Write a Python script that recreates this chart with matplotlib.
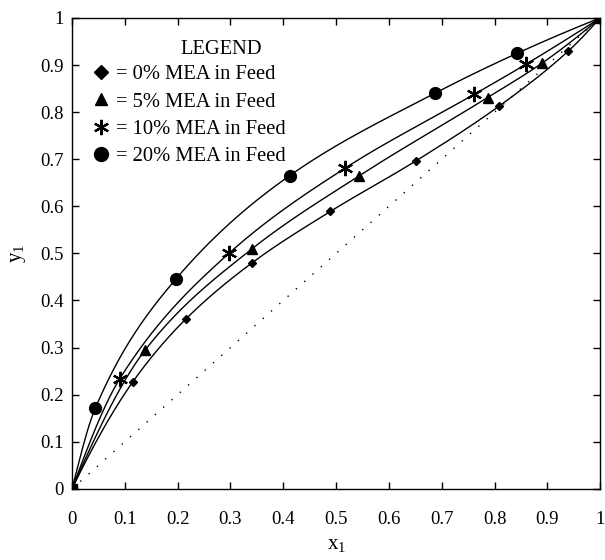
import numpy as np
import matplotlib
matplotlib.use("Agg")
import matplotlib.pyplot as plt
from matplotlib.lines import Line2D

plt.rcParams['font.family'] = ['Liberation Serif', 'DejaVu Serif']
plt.rcParams['mathtext.fontset'] = 'custom'
plt.rcParams['mathtext.rm'] = 'Liberation Serif'
plt.rcParams['mathtext.it'] = 'Liberation Serif:italic'

# ---- data ----
x_0 = [0, 0.115, 0.215, 0.341, 0.489, 0.652, 0.809, 0.940, 1]
y_0 = [0, 0.227, 0.360, 0.480, 0.589, 0.697, 0.813, 0.930, 1]
x_5 = [0, 0.138, 0.340, 0.544, 0.787, 0.890, 1]
y_5 = [0, 0.294, 0.509, 0.665, 0.831, 0.904, 1]
x_10 = [0, 0.090, 0.297, 0.517, 0.762, 0.860, 1]
y_10 = [0, 0.233, 0.500, 0.681, 0.838, 0.902, 1]
x_20 = [0, 0.044, 0.197, 0.412, 0.687, 0.843, 1]
y_20 = [0, 0.171, 0.446, 0.665, 0.840, 0.925, 1]
labels = ['= 0% MEA in Feed', '= 5% MEA in Feed', '= 10% MEA in Feed', '= 20% MEA in Feed']
ticks = [0, 0.1, 0.2, 0.3, 0.4, 0.5, 0.6, 0.7, 0.8, 0.9, 1]
tick_labels = ['0', '0.1', '0.2', '0.3', '0.4', '0.5', '0.6', '0.7', '0.8', '0.9', '1']


def pchip(x, y, xs):
    x = np.asarray(x, float); y = np.asarray(y, float)
    h = np.diff(x); d = np.diff(y) / h
    n = len(x)
    m = np.zeros(n)
    for k in range(1, n - 1):
        if d[k - 1] * d[k] > 0:
            w1 = 2 * h[k] + h[k - 1]; w2 = h[k] + 2 * h[k - 1]
            m[k] = (w1 + w2) / (w1 / d[k - 1] + w2 / d[k])
    m[0] = ((2 * h[0] + h[1]) * d[0] - h[0] * d[1]) / (h[0] + h[1])
    if np.sign(m[0]) != np.sign(d[0]): m[0] = 0
    elif abs(m[0]) > 3 * abs(d[0]): m[0] = 3 * d[0]
    m[-1] = ((2 * h[-1] + h[-2]) * d[-1] - h[-1] * d[-2]) / (h[-1] + h[-2])
    if np.sign(m[-1]) != np.sign(d[-1]): m[-1] = 0
    elif abs(m[-1]) > 3 * abs(d[-1]): m[-1] = 3 * d[-1]
    idx = np.clip(np.searchsorted(x, xs) - 1, 0, n - 2)
    t = (xs - x[idx]) / h[idx]
    h00 = 2 * t**3 - 3 * t**2 + 1; h10 = t**3 - 2 * t**2 + t
    h01 = -2 * t**3 + 3 * t**2; h11 = t**3 - t**2
    return h00 * y[idx] + h10 * h[idx] * m[idx] + h01 * y[idx + 1] + h11 * h[idx] * m[idx + 1]


fig = plt.figure(figsize=(6.05, 5.6), dpi=100)
ax = fig.add_axes([0.119, 0.127, 0.873, 0.841])

xs = np.linspace(0, 1, 600)
ax.plot([0, 1], [0, 1], color='black', lw=1.0, linestyle=(0, (1, 7)))

series = [(x_0, y_0, 'D', 4.5), (x_5, y_5, '^', 7.5), (x_10, y_10, (6, 2, 0), 11), (x_20, y_20, 'o', 8.5)]
handles = []
for (xv, yv, mk, ms), lab in zip(series, labels):
    ax.plot(xs, pchip(xv, yv, xs), color='black', lw=1.0)
    mew = 1.6 if mk == (6, 2, 0) else 1.0
    ax.plot(xv[1:-1], yv[1:-1], linestyle='none', marker=mk, ms=ms, color='black', mew=mew)
    hms = {'D': 7.5, '^': 9, 'o': 10}.get(mk, 11) if not isinstance(mk, tuple) else 11
    handles.append(Line2D([], [], linestyle='none', marker=mk, ms=hms, color='black', mew=mew))

ax.plot([0, 1], [0, 1], linestyle='none', marker='s', ms=7, color='black')

ax.set_xlim(0, 1)
ax.set_ylim(0, 1)
ax.set_xticks(ticks)
ax.set_xticklabels(tick_labels)
ax.set_yticks(ticks)
ax.set_yticklabels(tick_labels)
ax.tick_params(direction='in', top=True, right=True, length=5, width=1, labelsize=13.5)
ax.tick_params(axis='x', pad=16)
ax.tick_params(axis='y', pad=6)
for s in ax.spines.values():
    s.set_linewidth(1.0)

ax.set_xlabel('$\\mathrm{x}_1$', fontsize=15, labelpad=5)
ax.set_ylabel('$\\mathrm{y}_1$', fontsize=15, labelpad=9)

leg = ax.legend(handles, labels, loc='upper left', bbox_to_anchor=(0.008, 0.935), frameon=False,
                fontsize=14.8, handlelength=0.8, handletextpad=0.35,
                labelspacing=0.38, borderpad=0.3)
ax.text(0.283, 0.933, 'LEGEND', transform=ax.transAxes, ha='center', va='center', fontsize=14.8)

fig.savefig('out.png', dpi=100)
